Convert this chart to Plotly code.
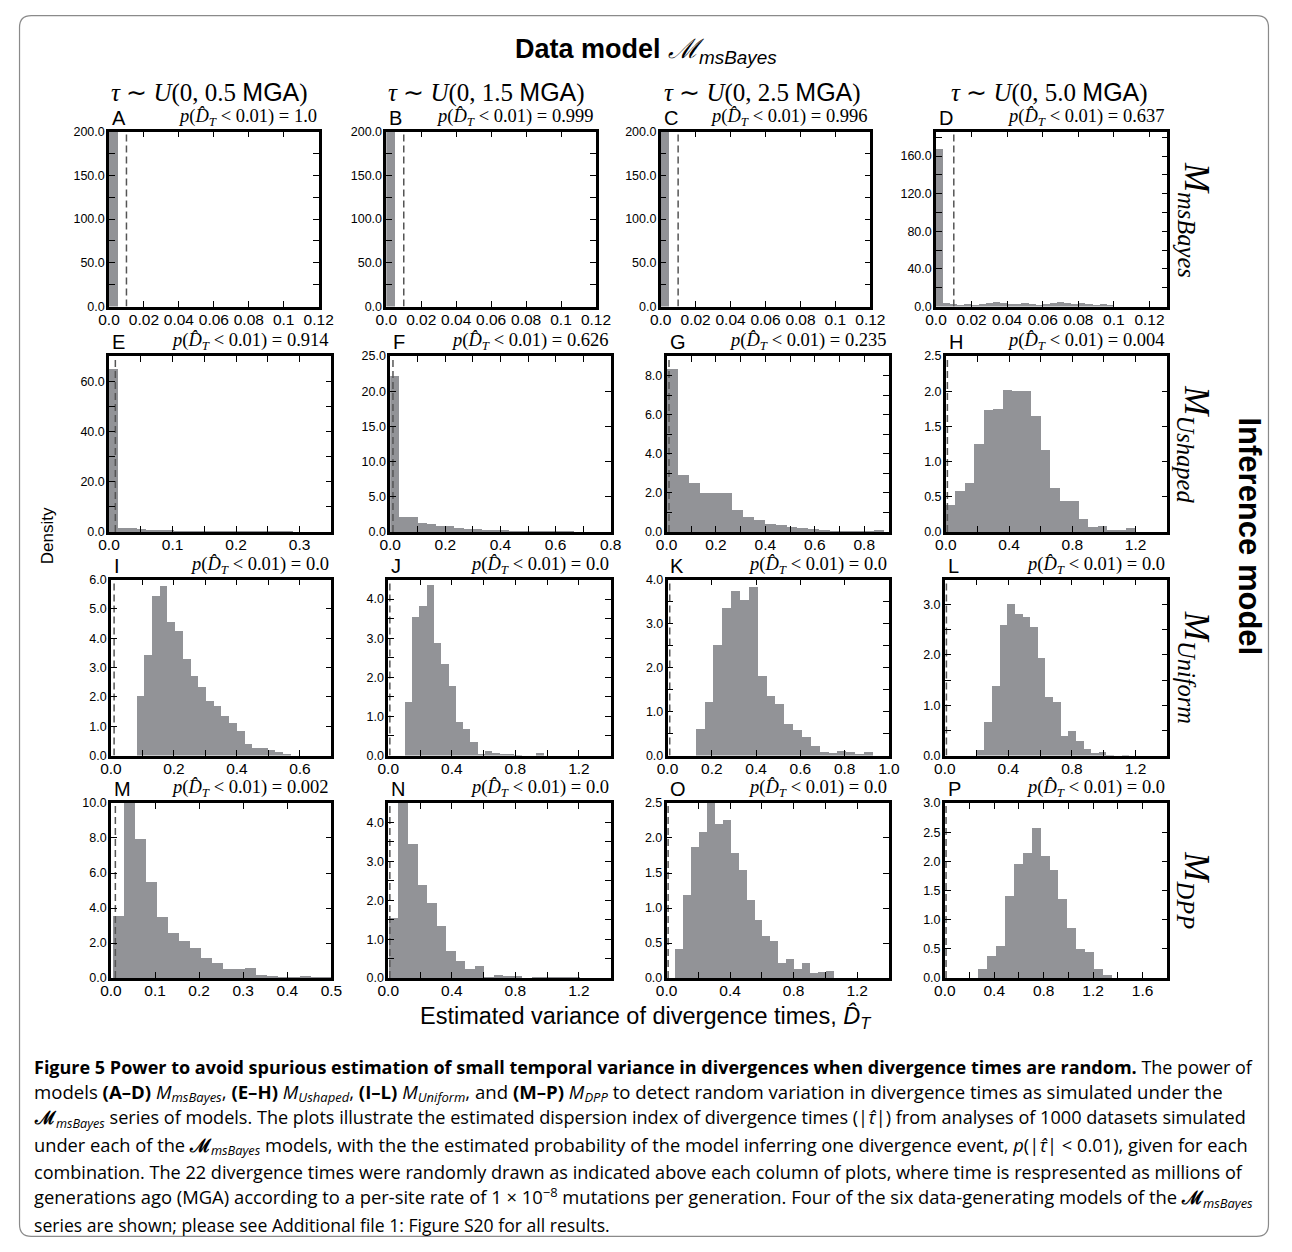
import numpy as np
import plotly.graph_objects as go
from plotly.subplots import make_subplots

FW, FH = 1292, 1252

# ---------------- data ----------------
panel_letters = ["A", "B", "C", "D", "E", "F", "G", "H",
                 "I", "J", "K", "L", "M", "N", "O", "P"]
column_tau_max = ["0.5", "1.5", "2.5", "5.0"]
row_models = ["msBayes", "Ushaped", "Uniform", "DPP"]
p_values = ["1.0", "0.999", "0.996", "0.637",
            "0.914", "0.626", "0.235", "0.004",
            "0.0", "0.0", "0.0", "0.0",
            "0.002", "0.0", "0.0", "0.0"]

# histogram bin span (first edge, last edge) and densities per panel
A_bins = (0.0, 0.0052); A_density = [200.0]
B_bins = (0.0, 0.0052); B_density = [200.0]
C_bins = (0.0, 0.0046); C_density = [200.0]
D_bins = (0.0, 0.1)
D_density = [168, 4, 3, 2, 3, 2, 3, 4, 5, 4, 3, 3, 4, 3, 2, 3, 4, 5, 4, 3, 4, 3, 2, 3, 2]
E_bins = (0.0, 0.29)
E_density = [65.0, 1.5, 1.7, 1.2, 0.9, 0.8, 0.7, 0.6, 0.6, 0.5,
             0.5, 0.4, 0.4, 0.4, 0.3, 0.3, 0.4, 0.3, 0.2, 0.2]
F_bins = (0.0, 0.667)
F_density = [22.1, 2.2, 2.1, 1.3, 1.1, 0.9, 0.8, 0.5, 0.4, 0.4,
             0.3, 0.3, 0.25, 0.2, 0.2, 0.2, 0.15, 0.15, 0.1, 0.15]
G_bins = (0.0, 0.88)
G_density = [8.34, 2.9, 2.53, 1.97, 2.0, 1.97, 1.13, 0.76, 0.62, 0.4,
             0.34, 0.24, 0.2, 0.15, 0.1, 0.07, 0.06, 0.05, 0.05, 0.08]
H_bins = (0.0, 1.2)
H_density = [0.38, 0.585, 0.69, 1.25, 1.73, 1.75, 2.02, 2.01, 2.01, 1.65,
             1.16, 0.63, 0.44, 0.44, 0.18, 0.065, 0.08, 0.03, 0.03, 0.05]
I_bins = (0.081, 0.571)
I_density = [2.05, 3.43, 5.46, 5.8, 4.56, 4.26, 3.3, 2.72, 2.36, 1.86,
             1.69, 1.35, 1.13, 0.84, 0.42, 0.28, 0.28, 0.19, 0.15, 0.06]
J_bins = (0.105, 1.025)
J_density = [1.38, 3.55, 3.83, 4.37, 2.89, 2.35, 1.78, 0.87, 0.69, 0.36,
             0.06, 0.13, 0.08, 0.05, 0.04, 0.03, 0.0, 0.0, 0.07, 0.0]
K_bins = (0.125, 0.925)
K_density = [0.62, 1.22, 2.53, 3.36, 3.74, 3.54, 3.84, 1.82, 1.37, 1.19,
             0.73, 0.58, 0.43, 0.23, 0.1, 0.075, 0.11, 0.09, 0.04, 0.09]
L_bins = (0.2, 1.16)
L_density = [0.12, 0.67, 1.39, 2.61, 3.02, 2.82, 2.76, 2.56, 1.94, 1.17,
             1.08, 0.39, 0.49, 0.3, 0.13, 0.066, 0.08, 0.03, 0.0, 0.03]
M_bins = (0.004, 0.504)
M_density = [3.54, 10.4, 7.93, 5.48, 3.5, 2.56, 2.13, 1.71, 1.15, 0.87,
             0.49, 0.49, 0.55, 0.2, 0.11, 0.02, 0.08, 0.11, 0.08, 0.06]
N_bins = (0.006, 1.206)
N_density = [1.54, 4.6, 3.45, 2.39, 1.92, 1.35, 0.69, 0.43, 0.22, 0.32,
             0.03, 0.09, 0.05, 0.05, 0.0, 0.02, 0.02, 0.02, 0.02, 0.02]
O_bins = (0.051, 1.051)
O_density = [0.41, 1.19, 1.87, 2.08, 2.55, 2.2, 2.26, 1.78, 1.54, 1.11,
             0.83, 0.6, 0.53, 0.22, 0.27, 0.13, 0.22, 0.07, 0.085, 0.095]
P_bins = (0.27, 1.35)
P_density = [0.15, 0.37, 0.55, 1.4, 1.95, 2.15, 2.58, 2.1, 1.85, 1.35,
             0.85, 0.5, 0.45, 0.15, 0.05]

bins_all = [A_bins, B_bins, C_bins, D_bins, E_bins, F_bins, G_bins, H_bins,
            I_bins, J_bins, K_bins, L_bins, M_bins, N_bins, O_bins, P_bins]
density_all = [A_density, B_density, C_density, D_density, E_density, F_density,
               G_density, H_density, I_density, J_density, K_density, L_density,
               M_density, N_density, O_density, P_density]

# axis ranges
x_ranges = [(0, 0.12), (0, 0.12), (0, 0.12), (0, 0.13),
            (0, 0.35), (0, 0.8), (0, 0.9), (0, 1.4),
            (0, 0.7), (0, 1.4), (0, 1.0), (0, 1.4),
            (0, 0.5), (0, 1.4), (0, 1.4), (0, 1.8)]
y_ranges = [(0, 200), (0, 200), (0, 200), (0, 186),
            (0, 70), (0, 25), (0, 9), (0, 2.5),
            (0, 6), (0, 4.5), (0, 4), (0, 3.5),
            (0, 10), (0, 4.5), (0, 2.5), (0, 3.0)]
# (label step, tick step)
x_ticksteps = [(0.02, 0.02), (0.02, 0.02), (0.02, 0.02), (0.02, 0.02),
               (0.1, 0.05), (0.2, 0.1), (0.2, 0.1), (0.4, 0.2),
               (0.2, 0.1), (0.4, 0.2), (0.2, 0.2), (0.4, 0.2),
               (0.1, 0.1), (0.4, 0.2), (0.4, 0.2), (0.4, 0.2)]
y_ticksteps = [(50, 25), (50, 25), (50, 25), (40, 20),
               (20, 10), (5, 5), (2, 1), (0.5, 0.5),
               (1, 1), (1, 0.5), (1, 0.5), (1, 0.5),
               (2, 2), (1, 0.5), (0.5, 0.5), (0.5, 0.5)]
threshold = 0.01

# ---------------- layout geometry (reference pixels) ----------------
panel_x_px = [(100, 314), (383, 597), (663, 877), (944, 1180),
              (100, 327), (387, 612), (669, 896), (954, 1180),
              (102, 327), (385, 612), (670, 896), (953, 1180),
              (102, 327), (385, 612), (669, 896), (953, 1180)]
row_px = [(126, 303), (353, 531), (579, 757), (805, 982)]

GRAY = "#929397"


def PX(x):
    return x / FW


def PY(y):
    return 1 - y / FH


def fmt(v):
    s = f"{round(v, 6):g}"
    if "." not in s:
        s += ".0"
    return s


def ticks(rng, steps):
    lab, stp = steps
    n = int(round((rng[1] - rng[0]) / stp))
    vals, texts = [], []
    for k in range(n + 1):
        v = rng[0] + k * stp
        if v > rng[1] + 1e-9:
            break
        vals.append(v)
        ratio = v / lab
        texts.append(fmt(v) if abs(ratio - round(ratio)) < 1e-6 else "")
    return vals, texts


fig = make_subplots(rows=4, cols=4)

annotations = []
for i in range(16):
    r, c = divmod(i, 4)
    lo, hi = bins_all[i]
    dens = density_all[i]
    edges = np.linspace(lo, hi, len(dens) + 1)
    centers = (edges[:-1] + edges[1:]) / 2
    widths = np.diff(edges)
    fig.add_trace(go.Bar(x=centers, y=dens, width=widths,
                         marker=dict(color=GRAY, line=dict(width=0)),
                         showlegend=False, hoverinfo="skip"),
                  row=r + 1, col=c + 1)
    fig.add_trace(go.Scatter(x=[threshold, threshold], y=[0, y_ranges[i][1]],
                             mode="lines",
                             line=dict(color="#555555", width=1.5, dash="7px,4px"),
                             showlegend=False, hoverinfo="skip"),
                  row=r + 1, col=c + 1)

    xl, xr = panel_x_px[i]
    yt, yb = row_px[r]
    xv, xt = ticks(x_ranges[i], x_ticksteps[i])
    yv, ytx = ticks(y_ranges[i], y_ticksteps[i])
    n = "" if i == 0 else str(i + 1)
    common = dict(ticks="inside", ticklen=6, tickwidth=1.2, tickcolor="black",
                  showline=True, linecolor="black", linewidth=2.5, mirror="allticks",
                  showgrid=False, zeroline=False, fixedrange=True)
    fig.layout["xaxis" + n].update(domain=[PX(xl), PX(xr)], range=list(x_ranges[i]),
                                   tickmode="array", tickvals=xv, ticktext=xt,
                                   ticklabelstandoff=-3,
                                   tickfont=dict(family="Liberation Sans", size=15.5, color="black"),
                                   **common)
    fig.layout["yaxis" + n].update(domain=[PY(yb), PY(yt)], range=list(y_ranges[i]),
                                   tickmode="array", tickvals=yv, ticktext=ytx,
                                   ticklabelstandoff=-1,
                                   tickfont=dict(family="Liberation Sans", size=12.5, color="black"),
                                   **common)
    annotations.append(dict(x=PX(xl + 1), y=PY(yt - 1), xref="paper", yref="paper",
                            text=panel_letters[i], showarrow=False,
                            xanchor="left", yanchor="bottom",
                            font=dict(family="Liberation Sans", size=20, color="black")))
    annotations.append(dict(x=PX(xr), y=PY(yt - 1), xref="paper", yref="paper",
                            text=("<i>p</i>(<i>D̂</i><sub><i>T</i></sub> &lt; 0.01) = "
                                  + p_values[i]),
                            showarrow=False, xanchor="right", yanchor="bottom",
                            font=dict(family="Liberation Serif", size=18.5, color="black")))

# titles
annotations.append(dict(x=PX(648), y=PY(44), xref="paper", yref="paper",
                        text="<b>Data model</b> <i>ℳ</i><sub><i>msBayes</i></sub>",
                        showarrow=False, xanchor="center", yanchor="middle",
                        font=dict(family="Liberation Sans", size=27, color="black")))
col_title_x = [203, 485, 767, 1060]
for c in range(4):
    annotations.append(dict(x=PX(col_title_x[c]), y=PY(86), xref="paper", yref="paper",
                            text=("<i>τ</i> ∼ <i>U</i>(0, " + column_tau_max[c]
                                  + " <span style='font-family:Liberation Sans'>MGA</span>)"),
                            showarrow=False, xanchor="center", yanchor="middle",
                            font=dict(family="Liberation Serif", size=25, color="black")))
row_label_y = [215, 442, 668, 893]
for r in range(4):
    annotations.append(dict(x=PX(1208), y=PY(row_label_y[r]), xref="paper", yref="paper",
                            text="<i>M</i><sub><i>" + row_models[r] + "</i></sub>",
                            showarrow=False, textangle=90, xanchor="center", yanchor="middle",
                            font=dict(family="Liberation Serif", size=35, color="black")))
annotations.append(dict(x=PX(1264), y=PY(535), xref="paper", yref="paper",
                        text="<b>Inference model</b>", showarrow=False, textangle=90,
                        xanchor="center", yanchor="middle",
                        font=dict(family="Liberation Sans", size=31, color="black")))
annotations.append(dict(x=PX(37), y=PY(535), xref="paper", yref="paper",
                        text="Density", showarrow=False, textangle=-90,
                        xanchor="center", yanchor="middle",
                        font=dict(family="Liberation Sans", size=17, color="black")))
annotations.append(dict(x=PX(648), y=PY(1021), xref="paper", yref="paper",
                        text="Estimated variance of divergence times, <i>D̂</i><sub><i>T</i></sub>",
                        showarrow=False, xanchor="center", yanchor="middle",
                        font=dict(family="Liberation Sans", size=23.5, color="black")))

# caption
Msb = "<b>ℳ</b><sub><i>msBayes</i></sub>"
caption_lines = [
    "<b>Figure 5 Power to avoid spurious estimation of small temporal variance in divergences when divergence times are random.</b> The power of",
    "models <b>(A–D)</b> <i>M<sub>msBayes</sub></i>, <b>(E–H)</b> <i>M<sub>Ushaped</sub></i>, <b>(I–L)</b> <i>M<sub>Uniform</sub></i>, and <b>(M–P)</b> <i>M<sub>DPP</sub></i> to detect random variation in divergence times as simulated under the",
    Msb + " series of models. The plots illustrate the estimated dispersion index of divergence times (|<i>τ̂</i>|) from analyses of 1000 datasets simulated",
    "under each of the " + Msb + " models, with the the estimated probability of the model inferring one divergence event, <i>p</i>(|<i>τ̂</i>| &lt; 0.01), given for each",
    "combination. The 22 divergence times were randomly drawn as indicated above each column of plots, where time is respresented as millions of",
    "generations ago (MGA) according to a per-site rate of 1 × 10<sup>−8</sup> mutations per generation. Four of the six data-generating models of the " + Msb,
    "series are shown; please see Additional file 1: Figure S20 for all results.",
]
caption_y = [1071, 1098, 1124, 1151, 1178, 1204, 1231]
caption_size = [18, 18.6, 18.1, 18.3, 18.1, 18.4, 17.6]
for k, line in enumerate(caption_lines):
    annotations.append(dict(x=PX(22), y=PY(caption_y[k]), xref="paper", yref="paper",
                            text=line, showarrow=False, xanchor="left", yanchor="middle",
                            align="left", valign="middle", height=25, borderpad=0,
                            font=dict(family="Open Sans", size=caption_size[k], color="black")))

# rounded frame
x0, y0, x1, y1, rad = 8.7, 8.7, 1283.3, 1243.3, 12


def P(x, y):
    return f"{PX(x):.6f},{PY(y):.6f}"


frame_path = (f"M {P(x0 + rad, y0)} L {P(x1 - rad, y0)} Q {P(x1, y0)} {P(x1, y0 + rad)} "
              f"L {P(x1, y1 - rad)} Q {P(x1, y1)} {P(x1 - rad, y1)} "
              f"L {P(x0 + rad, y1)} Q {P(x0, y1)} {P(x0, y1 - rad)} "
              f"L {P(x0, y0 + rad)} Q {P(x0, y0)} {P(x0 + rad, y0)} Z")

fig.update_layout(
    width=FW, height=FH, margin=dict(l=0, r=0, t=0, b=0),
    paper_bgcolor="white", plot_bgcolor="white",
    bargap=0, showlegend=False,
    annotations=annotations,
    shapes=[dict(type="path", path=frame_path, xref="paper", yref="paper",
                 line=dict(color="#8a8a8a", width=1.2))],
)

fig.write_html(
    "out.html",
    config={"displayModeBar": False},
    post_script="document.body.style.margin='0';document.body.style.overflow='hidden';",
)
